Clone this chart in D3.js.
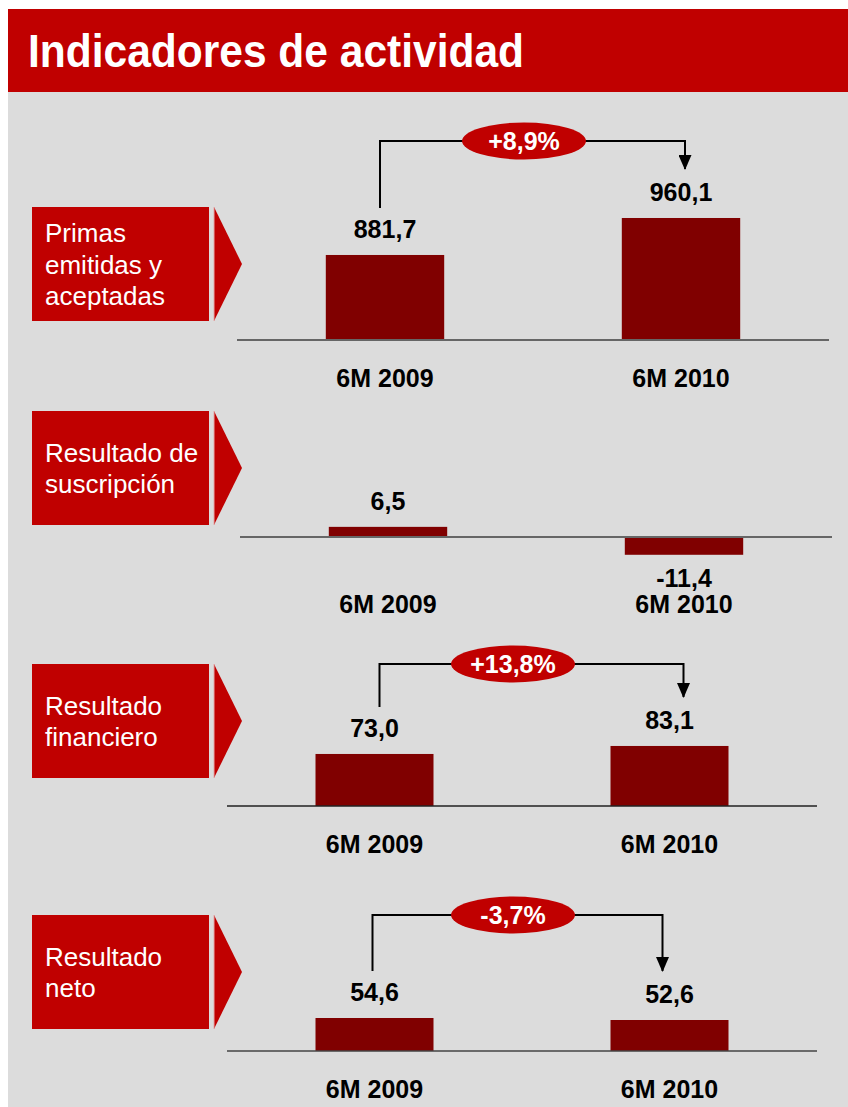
<!DOCTYPE html>
<html>
<head>
<meta charset="utf-8">
<script src="https://cdn.jsdelivr.net/npm/d3@7"></script>
<style>
  body { margin: 0; background: #fff; }
  svg { display: block; font-family: "Liberation Sans", Arial, sans-serif; }
</style>
</head>
<body>
<svg id="chart" width="848" height="1107"></svg>
<script>
// data
const categories = ["6M 2009", "6M 2010"];
const panelLabels = [
    ["Primas", "emitidas y", "aceptadas"],
    ["Resultado de", "suscripción"],
    ["Resultado", "financiero"],
    ["Resultado", "neto"]
];
const primas = [881.7, 960.1];
const suscripcion = [6.5, -11.4];
const financiero = [73.0, 83.1];
const neto = [54.6, 52.6];
const changes = ["+8,9%", null, "+13,8%", "-3,7%"];
const series = [primas, suscripcion, financiero, neto];

// layout of each block (floor = value at which the axis line sits)
const layout = [
    { top: 207, axisY: 340, x0: 237, x1: 829, floor: 701.5, k: 0.4718, bracketY: 141, bxL: -5, bxR: 4, axisColor: "#666", axisW: 2 },
    { top: 411, axisY: 537, x0: 240, x1: 832, floor: 0, k: 1.56, axisColor: "#666", axisW: 2 },
    { top: 664, axisY: 806, x0: 227, x1: 817, floor: 7.3, k: 0.792, bracketY: 664, bxL: 5, bxR: 14, axisColor: "#222", axisW: 1.5 },
    { top: 915, axisY: 1051, x0: 227, x1: 817, floor: 21.6, k: 1.0, bracketY: 915, bxL: -2, bxR: -7, axisColor: "#444", axisW: 1.5 }
];

const red = "#c00000", bar = "#800000";
const svg = d3.select("#chart");
const fmt = v => d3.format(".1f")(v).replace(".", ",").replace("\u2212", "-");

// background + header
svg.append("rect").attr("x", 8).attr("y", 92).attr("width", 840).attr("height", 1015).attr("fill", "#dcdcdc");
svg.append("rect").attr("x", 8).attr("y", 9).attr("width", 840).attr("height", 83).attr("fill", red);
svg.append("text").attr("x", 28).attr("y", 67)
    .attr("fill", "#fff").attr("font-weight", "bold").attr("font-size", 46)
    .attr("textLength", 496).attr("lengthAdjust", "spacingAndGlyphs")
    .text("Indicadores de actividad");

// arrow head pointing along the path
svg.append("defs").append("marker")
    .attr("id", "arrow").attr("viewBox", "0 0 15 13")
    .attr("refX", 14).attr("refY", 6.5)
    .attr("markerWidth", 15).attr("markerHeight", 13)
    .attr("markerUnits", "userSpaceOnUse").attr("orient", "auto")
    .append("path").attr("d", "M0,0L15,6.5L0,13Z").attr("fill", "#000");

layout.forEach((L, i) => {
    const g = svg.append("g");
    const vals = series[i];
    const boxH = 114, boxMid = L.top + boxH / 2;

    // red label box with chevron
    g.append("rect").attr("x", 32).attr("y", L.top).attr("width", 177).attr("height", boxH).attr("fill", red);
    g.append("path")
        .attr("d", `M214,${L.top}L242,${boxMid}L214,${L.top + boxH}Z`)
        .attr("fill", red);
    g.append("line").attr("x1", 214).attr("x2", 214).attr("y1", L.top).attr("y2", L.top + boxH)
        .attr("stroke", "#e6a8a8").attr("stroke-width", 1);
    const lines = panelLabels[i];
    g.selectAll("text.lbl").data(lines).enter().append("text")
        .attr("class", "lbl")
        .attr("x", 45)
        .attr("y", (d, j) => boxMid + 9.5 + (j - (lines.length - 1) / 2) * 31.5)
        .attr("fill", "#fff").attr("font-size", 26)
        .text(d => d);

    // scales
    const x = d3.scaleBand().domain(categories).range([L.x0, L.x1])
        .paddingInner(0.6).paddingOuter(0.3);
    const y = d3.scaleLinear().domain([L.floor, L.floor + 100]).range([L.axisY, L.axisY - 100 * L.k]);
    const cx = c => x(c) + x.bandwidth() / 2;
    const data = categories.map((c, j) => ({ cat: c, v: vals[j] }));

    g.selectAll("rect.bar").data(data).enter().append("rect")
        .attr("class", "bar")
        .attr("x", d => x(d.cat))
        .attr("width", x.bandwidth())
        .attr("y", d => Math.min(y(d.v), y(L.floor)))
        .attr("height", d => Math.abs(y(d.v) - y(L.floor)))
        .attr("fill", bar);

    g.append("line").attr("x1", L.x0).attr("x2", L.x1).attr("y1", L.axisY).attr("y2", L.axisY)
        .attr("stroke", L.axisColor).attr("stroke-width", L.axisW);

    const labelY = d => d.v >= L.floor ? y(d.v) - 17 : y(d.v) + 32;
    g.selectAll("text.val").data(data).enter().append("text")
        .attr("class", "val")
        .attr("x", d => cx(d.cat)).attr("y", labelY)
        .attr("text-anchor", "middle").attr("font-weight", "bold").attr("font-size", 25)
        .attr("fill", "#000")
        .text(d => fmt(d.v));

    const lowest = d3.max(data, d => d.v < L.floor ? labelY(d) : 0);
    const catY = Math.max(L.axisY + 47, lowest + 26);
    g.selectAll("text.cat").data(data).enter().append("text")
        .attr("class", "cat")
        .attr("x", d => cx(d.cat)).attr("y", catY)
        .attr("text-anchor", "middle").attr("font-weight", "bold").attr("font-size", 25)
        .attr("fill", "#000")
        .text(d => d.cat);

    // growth bracket
    if (changes[i]) {
        const xl = cx(categories[0]) + L.bxL, xr = cx(categories[1]) + L.bxR;
        const yl = labelY(data[0]) - 30, yr = labelY(data[1]) - 32;
        g.append("path")
            .attr("d", `M${xl},${yl}V${L.bracketY}H${xr}V${yr}`)
            .attr("fill", "none").attr("stroke", "#000").attr("stroke-width", 2)
            .attr("marker-end", "url(#arrow)");
        const ex = (L.x0 + L.x1) / 2 - 9;
        g.append("ellipse").attr("cx", ex).attr("cy", L.bracketY).attr("rx", 62).attr("ry", 18.5).attr("fill", red);
        g.append("text").attr("x", ex).attr("y", L.bracketY + 9)
            .attr("text-anchor", "middle").attr("font-weight", "bold").attr("font-size", 25)
            .attr("fill", "#fff").text(changes[i]);
    }
});
</script>
</body>
</html>
